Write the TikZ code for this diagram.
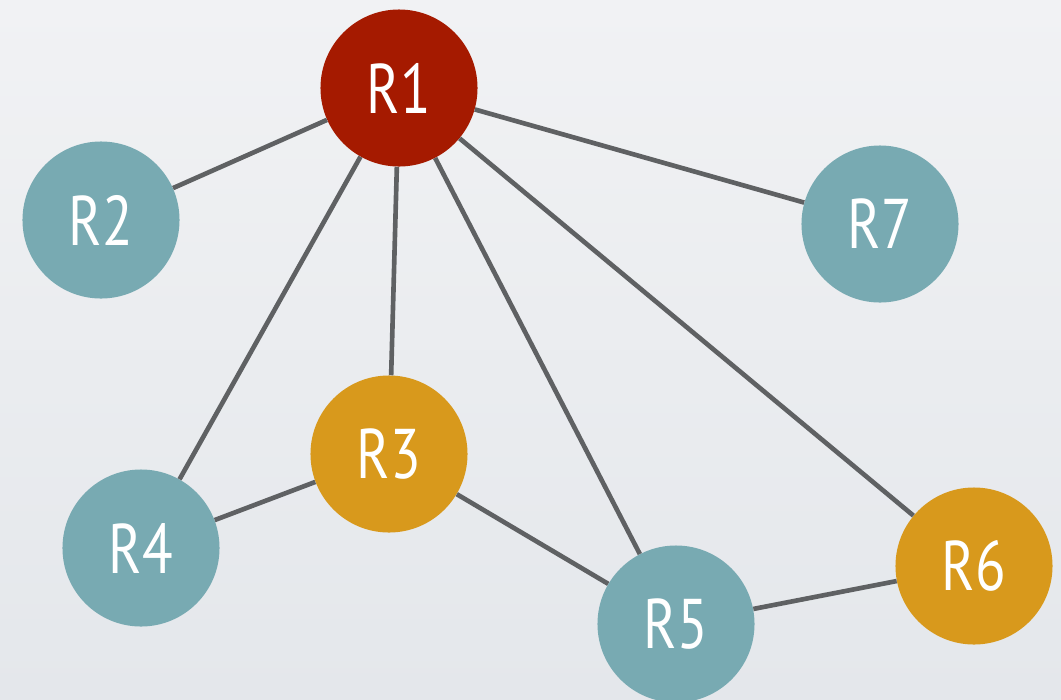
\documentclass[tikz,border=0pt]{standalone}
\usepackage{fontspec}
\usepackage{tikz}
\usetikzlibrary{positioning, backgrounds}
\newfontfamily\routerfont[FakeStretch=0.8]{PT Sans}

\definecolor{hubred}{HTML}{A51A00}
\definecolor{leafteal}{HTML}{78AAB2}
\definecolor{midorange}{HTML}{D8991C}
\definecolor{linkgray}{HTML}{5F6163}
\definecolor{bgtop}{HTML}{F1F2F4}
\definecolor{bgbottom}{HTML}{E4E7EB}

\tikzset{
	router/.style={circle, minimum size=3.925cm, inner sep=0pt, text=white,
		font=\routerfont\fontsize{50}{50}\selectfont},
	link/.style={draw=linkgray, line width=3.3pt}
}

\begin{document}
\begin{tikzpicture}[x=0.025cm, y=-0.025cm]
		% Background
		\shade[top color=bgtop, bottom color=bgbottom] (0,0) rectangle (1061,699);
		\useasboundingbox (0,0) rectangle (1061,699);
		
		% Routers
		\node[router, fill=hubred]    (r1) at (399,88)  {R1};
		\node[router, fill=leafteal]  (r2) at (101,220) {R2};
		\node[router, fill=midorange] (r3) at (389,454) {R3};
		\node[router, fill=leafteal]  (r4) at (141,548) {R4};
		\node[router, fill=leafteal]  (r5) at (676,624) {R5};
		\node[router, fill=midorange] (r6) at (974,566) {R6};
		\node[router, fill=leafteal]  (r7) at (880,224) {R7};
		
		% Links
		\foreach \a/\b in {r1/r2, r1/r7, r1/r4, r1/r3, r1/r5, r1/r6, r3/r4, r3/r5, r5/r6}
		\draw[link] (\a) -- (\b);
	\end{tikzpicture}
\end{document}
